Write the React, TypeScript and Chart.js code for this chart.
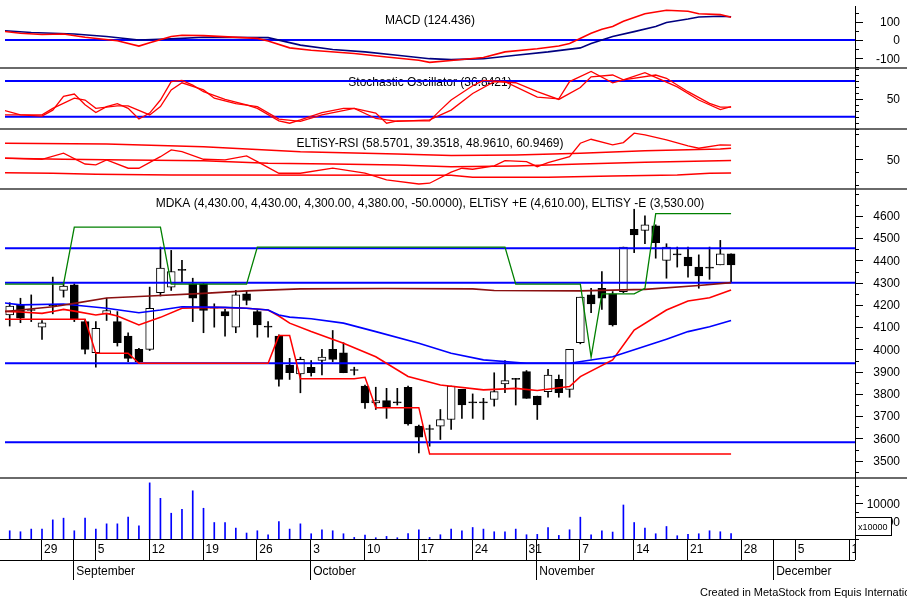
import React, { useEffect, useRef } from "react";
import { Chart, registerables } from "chart.js";

Chart.register(...registerables);

const FONT = '"Liberation Sans", Arial, Helvetica, sans-serif';

// ---------- time axis: trading-day index, 0 = Aug 24 ----------
const weekTickDays = [3, 8, 13, 18, 23, 28, 33, 38, 43, 48, 53, 58, 63, 68, 73, 78];
const weekTickLabels = ["29", "5", "12", "19", "26", "3", "10", "17", "24", "31", "7", "14", "21", "28", "5", "12"];
const monthStartDays = [6, 28, 49, 71];
const monthLabels = ["September", "October", "November", "December"];
const firstDay = -0.437;
const lastDay = 78.51;

// ---------- MDKA daily prices ----------
const openPx = [4155, 4200, 4175, 4100, 4195, 4265, 4290, 4125, 3985, 4160, 4125, 4060, 4000, 4000, 4255, 4280, 4355, 4295, 4295, 4185, 4170, 4100, 4250, 4170, 4100, 4060, 3930, 3890, 3920, 3950, 4000, 3985, 3905, 3835, 3760, 3770, 3760, 3830, 3655, 3640, 3655, 3685, 3820, 3760, 3760, 3775, 3845, 3865, 3900, 3790, 3810, 3865, 3820, 4030, 4245, 4275, 4250, 4260, 4540, 4535, 4555, 4400, 4425, 4415, 4370, 4365, 4380, 4430];
const highPx = [4210, 4230, 4245, 4130, 4325, 4300, 4295, 4135, 4125, 4230, 4170, 4075, 4005, 4280, 4460, 4445, 4400, 4320, 4300, 4205, 4180, 4265, 4265, 4175, 4125, 4065, 3960, 3965, 3950, 4000, 4085, 4030, 3920, 3840, 3830, 3825, 3825, 3835, 3660, 3660, 3730, 3835, 3820, 3800, 3780, 3895, 3950, 3870, 3905, 3790, 3910, 3885, 4000, 4235, 4275, 4350, 4260, 4460, 4630, 4600, 4560, 4475, 4460, 4460, 4425, 4460, 4490, 4430];
const lowPx = [4105, 4120, 4125, 4045, 4160, 4235, 4125, 3980, 3920, 4130, 4015, 3945, 3940, 3995, 4240, 4265, 4305, 4125, 4075, 4100, 4060, 4075, 4200, 4055, 4055, 3835, 3865, 3805, 3880, 3885, 3945, 3895, 3885, 3735, 3730, 3690, 3750, 3660, 3535, 3565, 3595, 3640, 3690, 3690, 3685, 3745, 3805, 3750, 3780, 3685, 3785, 3785, 3785, 4025, 4165, 4180, 4105, 4255, 4435, 4475, 4410, 4320, 4370, 4325, 4275, 4315, 4380, 4300];
const closePx = [4195, 4140, 4175, 4120, 4195, 4285, 4135, 4000, 4095, 4175, 4030, 3960, 3945, 4185, 4365, 4350, 4355, 4230, 4175, 4185, 4150, 4245, 4220, 4110, 4100, 3865, 3895, 3955, 3895, 3965, 3955, 3895, 3905, 3760, 3770, 3740, 3760, 3665, 3605, 3640, 3685, 3835, 3750, 3760, 3760, 3810, 3860, 3865, 3780, 3750, 3885, 3805, 4000, 4235, 4205, 4230, 4110, 4460, 4515, 4560, 4480, 4460, 4425, 4375, 4330, 4365, 4430, 4380];
// volume in units of 10,000 shares
const volume = [2320, 2040, 2790, 2790, 5390, 5870, 2320, 5870, 2790, 4270, 4270, 6150, 3720, 15810, 11450, 7260, 8380, 13580, 8660, 4640, 4640, 3070, 1680, 2320, 1200, 4920, 2790, 4270, 1480, 2600, 2320, 1480, 450, 1120, 360, 730, 360, 1560, 2600, 450, 1200, 2790, 2320, 3240, 2790, 2040, 2040, 2790, 1200, 1300, 3240, 1010, 2600, 6150, 1200, 2320, 1960, 9580, 4640, 3070, 1480, 3520, 920, 1300, 1480, 2320, 2040, 1500];

// ---------- price-panel studies: [day, value] ----------
const longMA: [number, number][] = [[-1, 4168], [4, 4192], [6, 4207], [9, 4231], [13, 4240], [18, 4252], [22, 4263], [27, 4272], [35, 4274], [43, 4272], [45, 4265], [53, 4263], [59, 4270], [64, 4287], [67, 4300]];
const midMA: [number, number][] = [[-1, 4212], [1, 4200], [5, 4204], [9, 4185], [12, 4165], [14, 4177], [16, 4192], [20, 4189], [22, 4185], [24, 4177], [25, 4155], [26, 4145], [28, 4138], [31, 4118], [34, 4080], [38, 4028], [41, 3983], [44, 3953], [48, 3938], [52, 3938], [56, 3967], [58, 3998], [61, 4046], [63, 4080], [65, 4102], [67, 4130]];
const shortMA: [number, number][] = [[-1, 4172], [1, 4168], [3, 4162], [4, 4170], [5, 4180], [6, 4172], [8, 4155], [9, 4162], [10, 4150], [12, 4110], [14, 4144], [16, 4185], [19, 4189], [22, 4185], [24, 4177], [25, 4150], [26, 4118], [28, 4080], [31, 4028], [34, 3967], [37, 3878], [40, 3840], [44, 3818], [47, 3825], [49, 3815], [52, 3833], [53, 3878], [56, 3953], [58, 4087], [61, 4177], [63, 4218], [65, 4232], [67, 4267]];
const entryPlusE: [number, number][] = [[-1, 4293], [5, 4293], [6, 4550], [14, 4550], [15, 4293], [22, 4293], [23, 4460], [46, 4460], [47, 4293], [53, 4293], [54, 3965], [55, 4250], [58, 4250], [59, 4275], [60, 4610], [67, 4610]];
const exitMinusE: [number, number][] = [[-1, 4135], [7, 4135], [8, 3983], [11, 3983], [12, 3938], [24, 3938], [25, 4062], [26, 4062], [27, 3868], [32, 3868], [33, 3875], [34, 3738], [38, 3738], [39, 3530], [67, 3530]];
const priceLevels = [4455, 4300, 3938, 3583];

// ---------- MACD ----------
const macdLine: [number, number][] = [[-1, 50], [1, 37], [3, 30], [5, 33], [7, 15], [10, -4], [12, -33], [13, -15], [15, 19], [16, 26], [18, 24], [23, 9], [24, -5], [26, -43], [28, -56], [32, -74], [35, -93], [38, -111], [39, -122], [41, -112], [44, -96], [46, -65], [49, -48], [51, -33], [52, -19], [54, 37], [55, 59], [56, 74], [57, 102], [59, 144], [61, 163], [63, 157], [64, 144], [66, 139], [67, 124.4]];
const macdSignal: [number, number][] = [[-1, 53], [2, 41], [6, 33], [9, 19], [12, 0], [15, 6], [18, 15], [24, 13], [27, -28], [30, -52], [33, -65], [36, -83], [39, -102], [41, -107], [44, -102], [47, -83], [50, -65], [53, -43], [54, -19], [55, 0], [56, 19], [58, 46], [60, 74], [61, 96], [63, 115], [64, 126], [66, 130], [67, 127]];
const macdLevels = [0];

// ---------- Stochastic ----------
const stochK: [number, number][] = [[-1, 33], [1, 23], [3, 21], [4, 31], [5, 54], [6, 58], [7, 40], [8, 27], [9, 37], [10, 42], [11, 34], [12, 16], [13, 26], [14, 48], [15, 79], [16, 81], [17, 73], [18, 62], [20, 49], [22, 40], [23, 34], [25, 13], [26, 9], [27, 14.5], [29, 27], [31, 34], [32, 34], [34, 26], [35, 9], [36, 13], [39, 13], [40, 31], [41, 48], [43, 72], [44, 81], [46, 79], [49, 53], [51, 50], [52, 79], [54, 96], [56, 77], [57, 82], [59, 94], [60, 86], [62, 70], [64, 48], [66, 32], [67, 36.84]];
const stochD: [number, number][] = [[-1, 23], [3, 23], [4, 34], [6, 51], [7, 48], [8, 34], [10, 38], [11, 38], [13, 23], [14, 37], [15, 65], [16, 77], [18, 65], [19, 51], [21, 42], [23, 37], [25, 16], [27, 12], [29, 23], [32, 34], [34, 17], [36, 12], [39, 14.5], [41, 31], [43, 59], [45, 79], [47, 77], [49, 62], [51, 49], [53, 69], [54, 87], [56, 90], [57, 82], [60, 90], [61, 84.5], [63, 62], [65, 42.5], [66, 36], [67, 36]];
const stochLevels = [80, 20];

// ---------- ELTiSY-RSI ----------
const rsiLine: [number, number][] = [[-1, 51], [3, 50], [5, 54.7], [7, 46.3], [8, 45.6], [9, 49.5], [11, 43], [12, 43], [14, 52], [15, 57.3], [16, 55.9], [18, 50], [20, 49.5], [22, 52.6], [23, 48.1], [25, 39.1], [27, 39.1], [30, 43], [33, 39.1], [35, 33.9], [38, 30.7], [39, 31.3], [41, 40], [42, 43], [43, 42.2], [45, 44.8], [46, 48.9], [48, 48.1], [49, 44.2], [50, 47.3], [52, 52], [53, 62.5], [54, 65.6], [56, 61.2], [57, 63], [58, 70.3], [59, 69], [61, 65.1], [63, 60.4], [64, 58.6], [66, 61.2], [67, 60.95]];
const rsiUpper: [number, number][] = [[-1, 62.5], [9, 61.9], [18, 59.8], [27, 55.9], [36, 54.1], [41, 53], [47, 53.4], [53, 54.7], [59, 56.7], [66, 58], [67, 58.57]];
const rsiMiddle: [number, number][] = [[-1, 50.8], [5, 50], [11, 49.5], [18, 48.9], [24, 46.9], [30, 46.3], [36, 45.6], [41, 44.2], [47, 44.8], [53, 46.3], [59, 47.7], [67, 48.96]];
const rsiLower: [number, number][] = [[-1, 39.5], [4, 39.1], [8, 38.3], [15, 37.8], [41, 37.5], [43, 36], [50, 36], [56, 37], [62, 37.8], [65, 39], [67, 39.35]];

// ---------- axis labels ----------
const macdTickLabels = [100, 0, -100];
const stochTickLabels = [50];
const rsiTickLabels = [50];
const priceTickLabels = [3500, 3600, 3700, 3800, 3900, 4000, 4100, 4200, 4300, 4400, 4500, 4600];
const volTickLabels = [10000, 5000];

const panelTitles = [
  "MACD (124.436)",
  "Stochastic Oscillator (36.8421)",
  "ELTiSY-RSI (58.5701, 39.3518, 48.9610, 60.9469)",
  "MDKA (4,430.00, 4,430.00, 4,300.00, 4,380.00, -50.0000), ELTiSY +E (4,610.00), ELTiSY -E (3,530.00)",
];
const panelAxes = ["yMacd", "yStoch", "yRsi", "yPrice"];
const footerText = "Created in MetaStock from Equis International";
const volUnitText = "x10000";

function hLine(ctx: any, x1: number, x2: number, y: number, color: string, w: number) {
  ctx.strokeStyle = color;
  ctx.lineWidth = w;
  const yy = w % 2 === 1 ? Math.round(y) + 0.5 : Math.round(y);
  ctx.beginPath();
  ctx.moveTo(x1, yy);
  ctx.lineTo(x2, yy);
  ctx.stroke();
}
function vLine(ctx: any, x: number, y1: number, y2: number, color: string, w: number) {
  ctx.strokeStyle = color;
  ctx.lineWidth = w;
  const xx = w % 2 === 1 ? Math.round(x) + 0.5 : Math.round(x);
  ctx.beginPath();
  ctx.moveTo(xx, y1);
  ctx.lineTo(xx, y2);
  ctx.stroke();
}
function drawTicks(ctx: any, scale: any, x0: number, minorStep: number, labels: number[], labelRight: number) {
  const { min, max } = scale;
  for (let v = Math.ceil(min / minorStep) * minorStep; v <= max; v += minorStep) {
    const major = labels.includes(v);
    hLine(ctx, x0, x0 + (major ? 8 : 4), scale.getPixelForValue(v), "#000", 1);
  }
  ctx.fillStyle = "#000";
  ctx.font = `12px ${FONT}`;
  ctx.textAlign = "right";
  ctx.textBaseline = "middle";
  labels.forEach((v) => ctx.fillText(String(v), labelRight, scale.getPixelForValue(v) + 1));
}

const panelsPlugin = {
  id: "panels",
  beforeDatasetsDraw(chart: any) {
    const { ctx, chartArea: ca, scales: s } = chart;
    ctx.save();
    ctx.fillStyle = "#000";
    ctx.font = `12px ${FONT}`;
    ctx.textAlign = "center";
    ctx.textBaseline = "middle";
    const cx = (ca.left + ca.right) / 2;
    panelTitles.forEach((t, k) => ctx.fillText(t, cx, s[panelAxes[k]].top + 15));
    ctx.restore();
  },
  afterDraw(chart: any) {
    const { ctx, chartArea: ca, scales: s, width } = chart;
    ctx.save();
    ["yStoch", "yRsi", "yPrice", "yVol"].forEach((id) => hLine(ctx, 0, width, s[id].top, "#6a6a6a", 2));
    const dayRowBottom = ca.bottom + 21;
    hLine(ctx, 0, ca.right, ca.bottom, "#000", 1);
    hLine(ctx, 0, ca.right, dayRowBottom, "#000", 1);
    vLine(ctx, ca.right, ca.top, dayRowBottom, "#000", 1);
    const labelRight = width - 7;
    drawTicks(ctx, s.yMacd, ca.right, 50, macdTickLabels, labelRight);
    drawTicks(ctx, s.yStoch, ca.right, 10, stochTickLabels, labelRight);
    drawTicks(ctx, s.yRsi, ca.right, 10, rsiTickLabels, labelRight);
    drawTicks(ctx, s.yPrice, ca.right, 50, priceTickLabels, labelRight);
    drawTicks(ctx, s.yVol, ca.right, 2500, volTickLabels, labelRight);

    // volume unit box
    const yb = s.yVol.getPixelForValue(5000);
    ctx.fillStyle = "#fff";
    ctx.fillRect(ca.right + 1, yb - 4, 36, 18);
    ctx.strokeStyle = "#000";
    ctx.lineWidth = 1;
    ctx.strokeRect(Math.round(ca.right) + 0.5, Math.round(yb - 4) + 0.5, 36, 18);
    ctx.fillStyle = "#000";
    ctx.font = `9px ${FONT}`;
    ctx.textAlign = "left";
    ctx.textBaseline = "middle";
    ctx.fillText(volUnitText, ca.right + 3, yb + 6);

    // date axis
    ctx.save();
    ctx.beginPath();
    ctx.rect(0, ca.bottom, ca.right, 50);
    ctx.clip();
    ctx.font = `12px ${FONT}`;
    ctx.fillStyle = "#000";
    ctx.textAlign = "left";
    ctx.textBaseline = "middle";
    weekTickDays.forEach((d, k) => {
      const x = s.x.getPixelForValue(d) - 1;
      vLine(ctx, x, ca.bottom, dayRowBottom, "#000", 1);
      ctx.fillText(weekTickLabels[k], x + 3, ca.bottom + 11);
    });
    monthStartDays.forEach((d, k) => {
      const x = s.x.getPixelForValue(d) - 1;
      vLine(ctx, x, ca.bottom, ca.bottom + 41, "#000", 1);
      ctx.fillText(monthLabels[k], x + 3, ca.bottom + 33);
    });
    ctx.restore();

    ctx.fillStyle = "#000";
    ctx.font = `11px ${FONT}`;
    ctx.textAlign = "left";
    ctx.textBaseline = "middle";
    ctx.fillText(footerText, 700, ca.bottom + 54);
    ctx.restore();
  },
};

export default function App() {
  const ref = useRef<HTMLCanvasElement>(null);
  useEffect(() => {
    document.body.style.margin = "0";
    const canvas = ref.current!;
    const days = openPx.map((_, i) => i);
    const line = (pts: [number, number][], color: string, width: number, axis: string, order = 3) => ({
      type: "line",
      data: pts.map(([x, y]) => ({ x, y })),
      borderColor: color,
      borderWidth: width,
      pointRadius: 0,
      tension: 0,
      fill: false,
      yAxisID: axis,
      order,
    });
    const level = (v: number, axis: string) =>
      line([[firstDay - 1, v], [lastDay + 1, v]], "#0000ff", 2, axis, 4);

    const datasets: any[] = [
      ...macdLevels.map((v) => level(v, "yMacd")),
      line(macdSignal, "#000080", 1.6, "yMacd", 2),
      line(macdLine, "#ff0000", 1.6, "yMacd", 1),
      ...stochLevels.map((v) => level(v, "yStoch")),
      line(stochD, "#ff0000", 1.3, "yStoch", 2),
      line(stochK, "#ff0000", 1.3, "yStoch", 1),
      line(rsiUpper, "#ff0000", 1.5, "yRsi", 2),
      line(rsiMiddle, "#ff0000", 1.5, "yRsi", 2),
      line(rsiLower, "#ff0000", 1.5, "yRsi", 2),
      line(rsiLine, "#ff0000", 1.3, "yRsi", 1),
      ...priceLevels.map((v) => level(v, "yPrice")),
      line(longMA, "#8b1010", 1.6, "yPrice", 3),
      line(midMA, "#0000ff", 1.6, "yPrice", 3),
      line(shortMA, "#ff0000", 1.6, "yPrice", 3),
      line(exitMinusE, "#ff0000", 1.5, "yPrice", 2),
      line(entryPlusE, "#008000", 1.3, "yPrice", 2),
      {
        type: "bar",
        data: days.map((i) => ({ x: i, y: [openPx[i], closePx[i]] })),
        backgroundColor: (c: any) => (closePx[c.dataIndex] > openPx[c.dataIndex] ? "#ffffff" : "#000000"),
        borderColor: "#000",
        borderWidth: 1,
        borderSkipped: false,
        barThickness: 8,
        minBarLength: 1,
        grouped: false,
        yAxisID: "yPrice",
        order: 19,
      },
      {
        type: "bar",
        data: days.map((i) => ({ x: i, y: [lowPx[i], highPx[i]] })),
        backgroundColor: "#000",
        barThickness: 1,
        grouped: false,
        yAxisID: "yPrice",
        order: 20,
      },
      {
        type: "bar",
        data: days.map((i) => ({ x: i, y: volume[i] })),
        backgroundColor: "#0000ff",
        barThickness: 1,
        grouped: false,
        yAxisID: "yVol",
        order: 18,
      },
    ];

    const axis = (weight: number, min: number, max: number) => ({
      type: "linear",
      position: "right",
      stack: "panels",
      stackWeight: weight,
      min,
      max,
      display: false,
      offset: false,
    });

    const chart = new Chart(canvas, {
      type: "line",
      data: { datasets },
      options: {
        responsive: false,
        animation: false,
        devicePixelRatio: 1,
        events: [],
        layout: { padding: { left: 5, right: 52, top: 6, bottom: 59 } },
        plugins: { legend: { display: false }, tooltip: { enabled: false } },
        scales: {
          x: { type: "linear", min: firstDay, max: lastDay, display: false, offset: false },
          yMacd: axis(62, -153, 186),
          yStoch: axis(61, -0.7, 101.8),
          yRsi: axis(60, 26.8, 73.6),
          yPrice: axis(289, 3422, 4721),
          yVol: axis(61, 0, 17180),
        },
      } as any,
      plugins: [panelsPlugin],
    } as any);
    return () => chart.destroy();
  }, []);
  return <canvas ref={ref} width={907} height={598} style={{ display: "block" }} />;
}
